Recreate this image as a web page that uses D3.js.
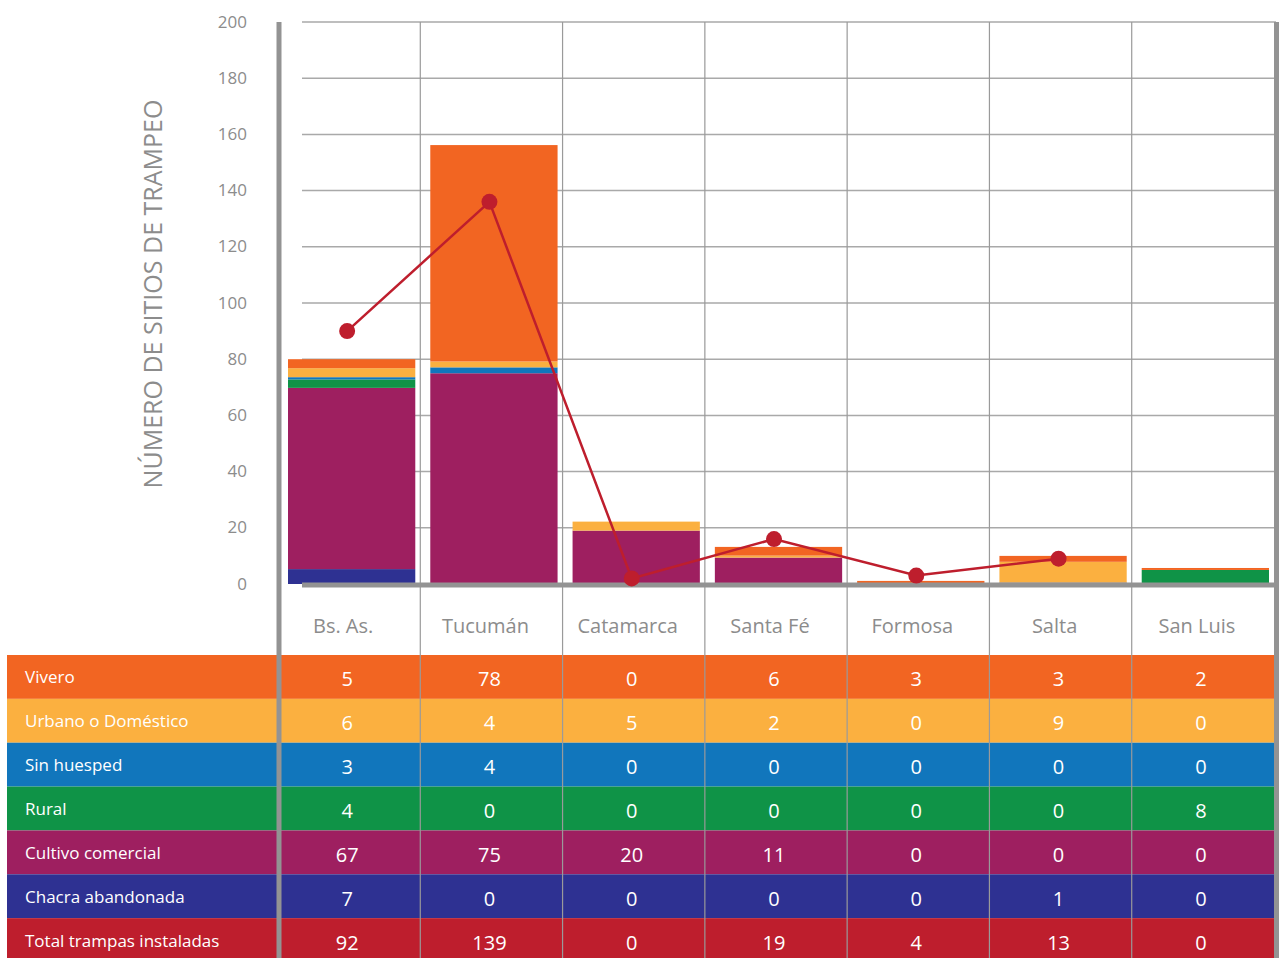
<!DOCTYPE html>
<html>
<head>
<meta charset="utf-8">
<script src="https://cdn.jsdelivr.net/npm/d3@7"></script>
<style>
  html, body { margin: 0; padding: 0; background: #fff; }
  svg { display: block; font-family: 'Open Sans', 'Noto Sans', sans-serif; }
</style>
</head>
<body>
<div id="chart"></div>
<script>
// ── Datos ────────────────────────────────────────────────
const provincias = ['Bs. As.', 'Tucumán', 'Catamarca', 'Santa Fé', 'Formosa', 'Salta', 'San Luis'];
const categorias = ['Vivero', 'Urbano o Doméstico', 'Sin huesped', 'Rural', 'Cultivo comercial', 'Chacra abandonada', 'Total trampas instaladas'];

// valores de la tabla
const tablaVivero      = [5, 78, 0, 6, 3, 3, 2];
const tablaUrbano      = [6, 4, 5, 2, 0, 9, 0];
const tablaSinHuesped  = [3, 4, 0, 0, 0, 0, 0];
const tablaRural       = [4, 0, 0, 0, 0, 0, 8];
const tablaCultivo     = [67, 75, 20, 11, 0, 0, 0];
const tablaChacra      = [7, 0, 0, 0, 0, 1, 0];
const tablaTotal       = [92, 139, 0, 19, 4, 13, 0];

// alturas de las barras tal como se dibujan en el gráfico
const barraChacra     = [5.3, 0, 0, 0, 0, 0.5, 0];
const barraCultivo    = [64.5, 75, 19, 9.4, 0, 0, 0];
const barraRural      = [3, 0, 0, 0, 0, 0, 5];
const barraSinHuesped = [0.8, 2.1, 0, 0, 0, 0, 0];
const barraUrbano     = [3.2, 2.1, 3.2, 0.7, 0, 7.4, 0];
const barraVivero     = [3.2, 77, 0, 3.1, 1.1, 2.1, 0.7];

// línea de total de trampas
const lineaTotal = [90, 136, 2, 16, 3, 9, null];

const yTicks = [0, 20, 40, 60, 80, 100, 120, 140, 160, 180, 200];

const colores = {
    'Vivero': '#f26522',
    'Urbano o Doméstico': '#fbb040',
    'Sin huesped': '#1176bc',
    'Rural': '#0f9347',
    'Cultivo comercial': '#9e1f60',
    'Chacra abandonada': '#2e3192',
    'Total trampas instaladas': '#be1e2d'
};

const tabla = [tablaVivero, tablaUrbano, tablaSinHuesped, tablaRural, tablaCultivo, tablaChacra, tablaTotal];

// orden de apilado: de abajo hacia arriba
const capas = [
    { key: 'Chacra abandonada', vals: barraChacra },
    { key: 'Cultivo comercial', vals: barraCultivo },
    { key: 'Rural', vals: barraRural },
    { key: 'Sin huesped', vals: barraSinHuesped },
    { key: 'Urbano o Doméstico', vals: barraUrbano },
    { key: 'Vivero', vals: barraVivero }
];

// ── Escalas ──────────────────────────────────────────────
const W = 1283, H = 958;
const axisGray = '#939393';
const textGray = '#8c8c8c';

const x = d3.scaleBand().domain(provincias).range([278, 1274]);
const y = d3.scaleLinear().domain([0, 200]).range([584, 22]);
const row = d3.scaleBand().domain(categorias).range([655, 962]);

const svg = d3.select('#chart').append('svg').attr('width', W).attr('height', H);

// ── Tabla ────────────────────────────────────────────────
const gTabla = svg.append('g');
gTabla.selectAll('rect').data(categorias).join('rect')
    .attr('x', 7).attr('width', 1274 - 7)
    .attr('y', d => row(d)).attr('height', row.bandwidth())
    .attr('fill', d => colores[d]);

// ── Rejilla ──────────────────────────────────────────────
svg.append('g').selectAll('line').data(yTicks.filter(t => t > 0)).join('line')
    .attr('x1', 302).attr('x2', 1276)
    .attr('y1', d => y(d)).attr('y2', d => y(d))
    .attr('stroke', '#a9a9a9').attr('stroke-width', 1.5);

svg.append('g').selectAll('line').data(provincias.slice(1)).join('line')
    .attr('x1', d => x(d)).attr('x2', d => x(d))
    .attr('y1', y(200)).attr('y2', H)
    .attr('stroke', '#9a9a9a').attr('stroke-width', 1.2);

// ── Barras apiladas ──────────────────────────────────────
const filas = provincias.map((p, i) => {
    const o = { provincia: p };
    capas.forEach(c => { o[c.key] = c.vals[i]; });
    return o;
});
const series = d3.stack().keys(capas.map(c => c.key))(filas);

svg.append('g').selectAll('g').data(series).join('g')
    .attr('fill', s => colores[s.key])
    .selectAll('rect').data(s => s).join('rect')
    .attr('x', d => x(d.data.provincia) + 10)
    .attr('width', x.bandwidth() - 15)
    .attr('y', d => y(d[1]))
    .attr('height', d => Math.max(0, y(d[0]) - y(d[1])));

// línea base y ejes gruesos
svg.append('line')
    .attr('x1', 302).attr('x2', 1276).attr('y1', y(0) + 1).attr('y2', y(0) + 1)
    .attr('stroke', axisGray).attr('stroke-width', 5);
svg.append('line')
    .attr('x1', 279).attr('x2', 279).attr('y1', y(200)).attr('y2', H)
    .attr('stroke', axisGray).attr('stroke-width', 5);
svg.append('line')
    .attr('x1', 1276.5).attr('x2', 1276.5).attr('y1', y(200)).attr('y2', H)
    .attr('stroke', axisGray).attr('stroke-width', 5);

// ── Línea de total ───────────────────────────────────────
const cx = p => x(p) + x.bandwidth() / 2;
const puntos = provincias.map((p, i) => ({ p, v: lineaTotal[i] })).filter(d => d.v != null);

svg.append('path').datum(puntos)
    .attr('fill', 'none').attr('stroke', colores['Total trampas instaladas']).attr('stroke-width', 2.5)
    .attr('d', d3.line().x(d => cx(d.p) - 2).y(d => y(d.v)));

svg.append('g').selectAll('circle').data(puntos).join('circle')
    .attr('cx', d => cx(d.p) - 2).attr('cy', d => y(d.v)).attr('r', 8)
    .attr('fill', colores['Total trampas instaladas']);

// ── Textos ───────────────────────────────────────────────
svg.append('g').selectAll('text').data(yTicks).join('text')
    .attr('x', 247).attr('y', d => y(d) - 1)
    .attr('text-anchor', 'end').attr('dominant-baseline', 'central')
    .style('font-size', '17px').style('fill', textGray)
    .text(d => d);

svg.append('text')
    .attr('transform', `translate(152, ${(100 + 488) / 2}) rotate(-90)`)
    .attr('text-anchor', 'middle').attr('dominant-baseline', 'central')
    .style('font-size', '25px').style('fill', textGray)
    .text('NÚMERO DE SITIOS DE TRAMPEO');

svg.append('g').selectAll('text').data(provincias).join('text')
    .attr('x', d => cx(d) - 6).attr('y', 625)
    .attr('text-anchor', 'middle').attr('dominant-baseline', 'central')
    .style('font-size', '20px').style('fill', textGray)
    .text(d => d);

gTabla.selectAll('text.lbl').data(categorias).join('text')
    .attr('class', 'lbl')
    .attr('x', 25).attr('y', d => row(d) + row.bandwidth() / 2)
    .attr('dominant-baseline', 'central')
    .style('font-size', '17px').style('fill', '#fff')
    .text(d => d);

const celdas = [];
categorias.forEach((c, r) => provincias.forEach((p, i) => celdas.push({ c, p, v: tabla[r][i] })));
svg.append('g').selectAll('text').data(celdas).join('text')
    .attr('x', d => cx(d.p) - 2).attr('y', d => row(d.c) + row.bandwidth() / 2 + 2)
    .attr('text-anchor', 'middle').attr('dominant-baseline', 'central')
    .style('font-size', '20px').style('fill', '#fff')
    .text(d => d.v);
</script>
</body>
</html>
